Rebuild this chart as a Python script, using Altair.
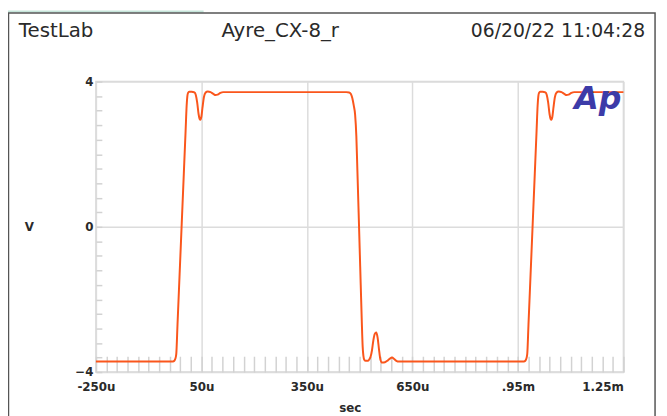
import altair as alt
import pandas as pd

# ---- waveform (time in microseconds, volts) ----
t_us = [
    -250, -31, -27, -24, -21.5, -18, -12, -6, 0, 5, 8, 10, 12, 15, 22, 30, 34, 38, 42, 45, 47, 50, 53, 57, 62,
    68, 76, 84, 90, 96, 104, 112,
    462, 470, 475, 479, 483, 487, 490.5, 493.5, 497, 500, 503, 506, 508.5, 510.5, 513, 517, 524, 528, 531,
    535, 539, 543, 547, 551, 555, 559, 564, 572, 580, 586, 592, 598, 604, 612,
    967, 971, 974, 976.5, 980, 986, 992, 998, 1003, 1006, 1008, 1010, 1013, 1020, 1028, 1032, 1036, 1040,
    1043, 1045, 1048, 1051, 1055, 1060, 1066, 1074, 1082, 1088, 1094, 1102, 1110, 1250,
]
volts = [
    -3.71, -3.71, -3.69, -3.63, -3.50, -2.69, -1.30, 0.09, 1.48, 2.64, 3.34, 3.60, 3.69, 3.72, 3.72, 3.70,
    3.63, 3.42, 3.10, 2.97, 2.95, 3.04, 3.28, 3.57, 3.70,
    3.73, 3.71, 3.66, 3.63, 3.64, 3.69, 3.71,
    3.71, 3.70, 3.66, 3.55, 3.35, 3.09, 2.50, 1.55, 0.40, -0.60, -1.60, -2.60, -3.30, -3.55, -3.66, -3.69,
    -3.69, -3.64, -3.58, -3.40, -3.12, -2.95, -2.91, -3.05, -3.38, -3.66, -3.74, -3.73, -3.68, -3.63, -3.60,
    -3.64, -3.69, -3.71,
    -3.71, -3.69, -3.63, -3.50, -2.69, -1.30, 0.09, 1.48, 2.64, 3.34, 3.60, 3.69, 3.72, 3.72, 3.70, 3.63,
    3.42, 3.10, 2.97, 2.95, 3.04, 3.28, 3.57, 3.70, 3.73, 3.71, 3.66, 3.63, 3.64, 3.69, 3.71, 3.71,
]

x_tick_values = [-250, 50, 350, 650, 950, 1250]
x_tick_labels = ["-250u", "50u", "350u", "650u", ".95m", "1.25m"]
y_tick_values = [-4, 0, 4]
x_minor_values = [-250 + 30 * i for i in range(51)]
y_minor_values = [round(-4 + 0.4 * i, 1) for i in range(21)]

header_left = "TestLab"
header_mid = "Ayre_CX-8_r"
header_right = "06/20/22 11:04:28"
logo_text = "Ap"
x_title = "sec"
y_title = "V"

FONT = "DejaVu Sans"
LINE = "#fa561c"
GRID = "#dcdcdc"
MINOR = "#d2d2d2"
TXT = "#2a2a2a"
GREEN = "#c5e5da"

df = pd.DataFrame({"t": t_us, "v": volts})
one = pd.DataFrame({"k": [0]})

label_expr = "".join(f"datum.value == {v} ? '{l}' : " for v, l in zip(x_tick_values, x_tick_labels)) + "''"

x_scale = alt.Scale(domain=[-250, 1250], nice=False, zero=False)
y_scale = alt.Scale(domain=[-4, 4], nice=False, zero=False)

x_axis = alt.Axis(
    orient="bottom",
    values=x_tick_values, labelExpr=label_expr, grid=True, gridColor=GRID, gridWidth=1.5,
    ticks=False, domain=False, labelFont=FONT, labelFontSize=12, labelFontWeight="bold",
    labelColor=TXT, labelPadding=10, labelFlush=False, labelOverlap=False, labelBound=False,
    labelAlign={"condition": {"test": "datum.value == 1250", "value": "right"}, "value": "center"},
    title=x_title, titleFont=FONT, titleFontSize=12, titleFontWeight="bold", titleColor=TXT,
    titleX=257, titleY=36, titleBaseline="middle", titleAlign="center",
)
y_axis = alt.Axis(
    orient="left",
    values=y_tick_values, grid=True, gridColor=GRID, gridWidth=1.5, ticks=False, domain=False,
    labelFont=FONT, labelFontSize=12, labelFontWeight="bold", labelColor=TXT, labelPadding=3,
    labelFlush=False, labelOverlap=False,
    title=y_title, titleFont=FONT, titleFontSize=12, titleFontWeight="bold", titleColor=TXT,
    titleAngle=0, titleX=-68, titleY=147, titleAlign="center", titleBaseline="middle",
)
x_minor_axis = alt.Axis(
    values=x_minor_values, orient="bottom", offset=-16, tickSize=16, tickColor=MINOR, tickWidth=1.5,
    labels=False, domain=False, grid=False, title="",
)
y_minor_axis = alt.Axis(
    values=y_minor_values, orient="left", offset=-6, tickSize=6, tickColor=MINOR, tickWidth=1.5,
    labels=False, domain=False, grid=False, title="",
)

wave = alt.Chart(df).mark_line(color=LINE, strokeWidth=2, interpolate="monotone").encode(
    x=alt.X("t:Q", scale=x_scale, axis=x_axis),
    y=alt.Y("v:Q", scale=y_scale, axis=y_axis),
)
minor = alt.Chart(df).mark_line(opacity=0).encode(
    x=alt.X("t:Q", scale=x_scale, axis=x_minor_axis),
    y=alt.Y("v:Q", scale=y_scale, axis=y_minor_axis),
)

green = alt.Chart(one).mark_rect(color=GREEN).encode(
    x=alt.value(-89), x2=alt.value(109), y=alt.value(-72), y2=alt.value(-70)
)
frame = alt.Chart(one).mark_rect(fillOpacity=0, stroke="#555555", strokeWidth=1.5).encode(
    x=alt.value(-88.5), x2=alt.value(566), y=alt.value(-69.5), y2=alt.value(345)
)

def label(text, x, y, align, size, weight="normal", style="normal", color=TXT):
    return alt.Chart(one).mark_text(
        text=text, font=FONT, fontSize=size, fontWeight=weight, fontStyle=style,
        align=align, baseline="alphabetic", color=color,
    ).encode(x=alt.value(x), y=alt.value(y))

t1 = label(header_left, -78, -45, "left", 20)
t2 = label(header_mid, 127, -45, "left", 20)
t3 = label(header_right, 556, -45, "right", 19)
logo = label(logo_text, 508, 28, "center", 32, weight="bold", style="italic", color="#3c3ba8")

chart = alt.layer(green, frame, minor, wave, t1, t2, t3, logo).resolve_axis(
    x="independent", y="independent"
).properties(
    width=534, height=294,
    padding={"left": 89, "top": 72, "right": 36, "bottom": 42},
    autosize=alt.AutoSizeParams(type="none"),
    background="white",
).configure_view(stroke="#d8d8d8", strokeWidth=1.5)

chart.save("out.html", embed_options={"renderer": "svg", "actions": False})
